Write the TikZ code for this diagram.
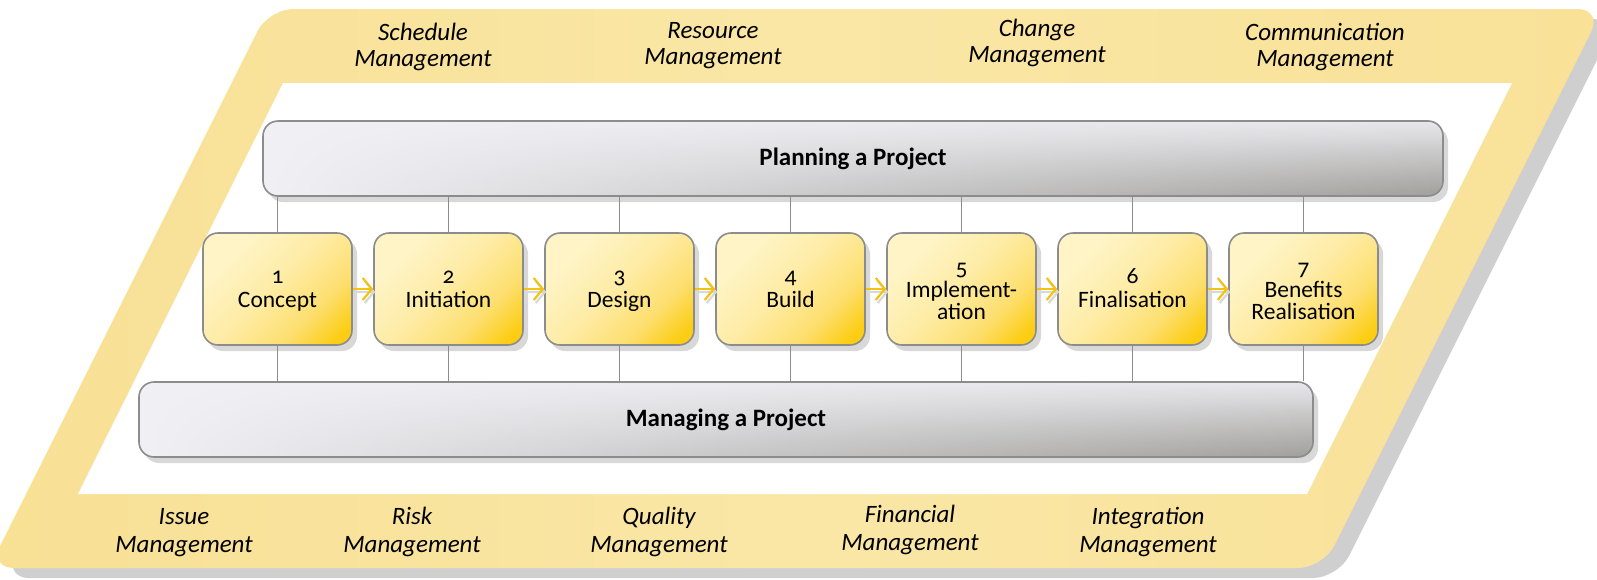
\documentclass[tikz,border=0pt]{standalone}
\usepackage{fontspec}
\setmainfont{Carlito}
\newfontfamily\numfont[Numbers=OldStyle]{Carlito}
\usetikzlibrary{arrows.meta,shadows,fadings}
\definecolor{bandL}{HTML}{F6D883}
\definecolor{bandM}{HTML}{FAE7A6}
\definecolor{bandR}{HTML}{F7DB89}
\definecolor{shadowgrey}{HTML}{CFCFCF}
\definecolor{boxline}{HTML}{8C8C8C}
\definecolor{cream}{HTML}{FEF4C6}
\definecolor{cream2}{HTML}{FEECA6}
\definecolor{creammid}{HTML}{FDDF70}
\definecolor{gold}{HTML}{FCCD12}
\definecolor{barlight}{HTML}{F1F0F5}
\definecolor{bartop}{HTML}{E8E7EB}
\definecolor{bardark}{HTML}{A09F9B}
\definecolor{arrowyellow}{HTML}{F3C213}
\definecolor{boxshadow}{HTML}{D8D8D8}
\pgfdeclarehorizontalshading{bandshade}{100bp}{color(0bp)=(bandL); color(50bp)=(bandM); color(100bp)=(bandR)}
\pgfdeclareverticalshading{stepshade}{100bp}{color(0bp)=(gold); color(20bp)=(gold); color(34bp)=(creammid); color(52bp)=(cream2); color(72bp)=(cream); color(100bp)=(cream)}
\tikzfading[name=fadetoright, left color=transparent!0, right color=transparent!100]
\tikzset{
  stepbox/.style={shade, shading=stepshade, shading angle=45, rounded corners=15pt,
    draw=boxline, line width=1.6pt, minimum width=149pt, minimum height=112pt,
    align=center, inner sep=0pt, font=\fontsize{23.5}{24}\selectfont,
    drop shadow={shadow xshift=5pt, shadow yshift=-6pt, fill=boxshadow, opacity=1}},
  threeline/.style={font=\fontsize{23.5}{22}\selectfont},
  barbox/.style={top color=bartop, bottom color=bardark, rounded corners=15pt,
    draw=boxline, line width=1.6pt, minimum height=75pt, inner sep=0pt,
    font=\fontsize{25}{26}\selectfont\bfseries,
    path picture={\fill[barlight, path fading=fadetoright]
      (path picture bounding box.south west) rectangle (path picture bounding box.north east);},
    drop shadow={shadow xshift=5pt, shadow yshift=-6pt, fill=boxshadow, opacity=1}},
  mlabel/.style={font=\fontsize{25}{26}\selectfont\itshape, align=center, inner sep=0pt, anchor=base},
  lowlabel/.style={mlabel, font=\fontsize{25}{28}\selectfont\itshape},
  connline/.style={draw=boxline, line width=1.5pt},
  flow/.style={draw=arrowyellow, line width=2.5pt, -{Straight Barb[length=9pt,width=22pt,line width=2.2pt]}},
  flowshadow/.style={draw=boxshadow, line width=2.5pt, -{Straight Barb[length=9pt,width=22pt,line width=2.2pt]}, transform canvas={shift={(2,3)}}}
}
\newcommand\twotop{\rule{0pt}{17pt}}
\newcommand\twobot{\rule[-5pt]{0pt}{5pt}}
\newcommand\thrtop{\rule{0pt}{18pt}}
\newcommand\thrbot{\rule[-2pt]{0pt}{2pt}}
\begin{document}
\begin{tikzpicture}[x=1pt,y=-1pt]
\useasboundingbox (0,0) rectangle (1597,579);
% outer band
\coordinate (O1) at (268.5,9);
\coordinate (O2) at (1602.5,9);
\coordinate (O3) at (1323,568);
\coordinate (O4) at (-11,568);
\coordinate (I1) at (283,83);
\coordinate (I2) at (1512,83);
\coordinate (I3) at (1307,494);
\coordinate (I4) at (78,494);
\fill[shadowgrey, rounded corners=25pt, transform canvas={shift={(15,10)}}] (O1) -- (O2) -- (O3) -- (O4) -- cycle;
\shade[shading=bandshade, rounded corners=25pt] (O1) -- (O2) -- (O3) -- (O4) -- cycle;
\fill[white] (I1) -- (I2) -- (I3) -- (I4) -- cycle;
% management labels (anchored at the baseline of the last line)
\node[mlabel] (sched) at (423,66) {Schedule\\Management};
\node[mlabel] (res) at (713,64) {Resource\\Management};
\node[mlabel] (chg) at (1037,62.5) {Change\\Management};
\node[mlabel] (comm) at (1325,66) {Communication\\Management};
\node[lowlabel] (issue) at (184,552) {Issue\\Management};
\node[lowlabel] (risk) at (412,552) {Risk\\Management};
\node[lowlabel] (qual) at (659,552) {Quality\\Management};
\node[lowlabel] (fin) at (910,550) {Financial\\Management};
\node[lowlabel] (integ) at (1148,552) {Integration\\Management};
% bars
\node[barbox, minimum width=1180pt] (plan) at (853,158.5) {Planning a Project};
\node[barbox, minimum width=1174pt] (manage) at (726,419.5) {Managing a Project};
% steps
\node[stepbox] (s1) at (277.5,289) {\twotop{\numfont 1}\\Concept\twobot};
\node[stepbox] (s2) at (448.5,289) {\twotop{\numfont 2}\\Initiation\twobot};
\node[stepbox] (s3) at (619.5,289) {\twotop{\numfont 3}\\Design\twobot};
\node[stepbox] (s4) at (790.5,289) {\twotop{\numfont 4}\\Build\twobot};
\node[stepbox, threeline] (s5) at (961.5,289) {\thrtop{\numfont 5}\\Implement-\\ation\thrbot};
\node[stepbox] (s6) at (1132.5,289) {\twotop{\numfont 6}\\Finalisation\twobot};
\node[stepbox, threeline] (s7) at (1303.5,289) {\thrtop{\numfont 7}\\Benefits\\Realisation\thrbot};
% connectors
\foreach \s in {s1,s2,s3,s4,s5,s6,s7}{
  \draw[connline] (plan.south -| \s.north) -- (\s.north);
  \draw[connline] (\s.south) -- (\s.south |- manage.north);
}
% flow arrows
\foreach \a/\b in {s1/s2,s2/s3,s3/s4,s4/s5,s5/s6,s6/s7}{
  \draw[flowshadow] (\a.east) -- (\b.west);
  \draw[flow] (\a.east) -- (\b.west);
}
\end{tikzpicture}
\end{document}
